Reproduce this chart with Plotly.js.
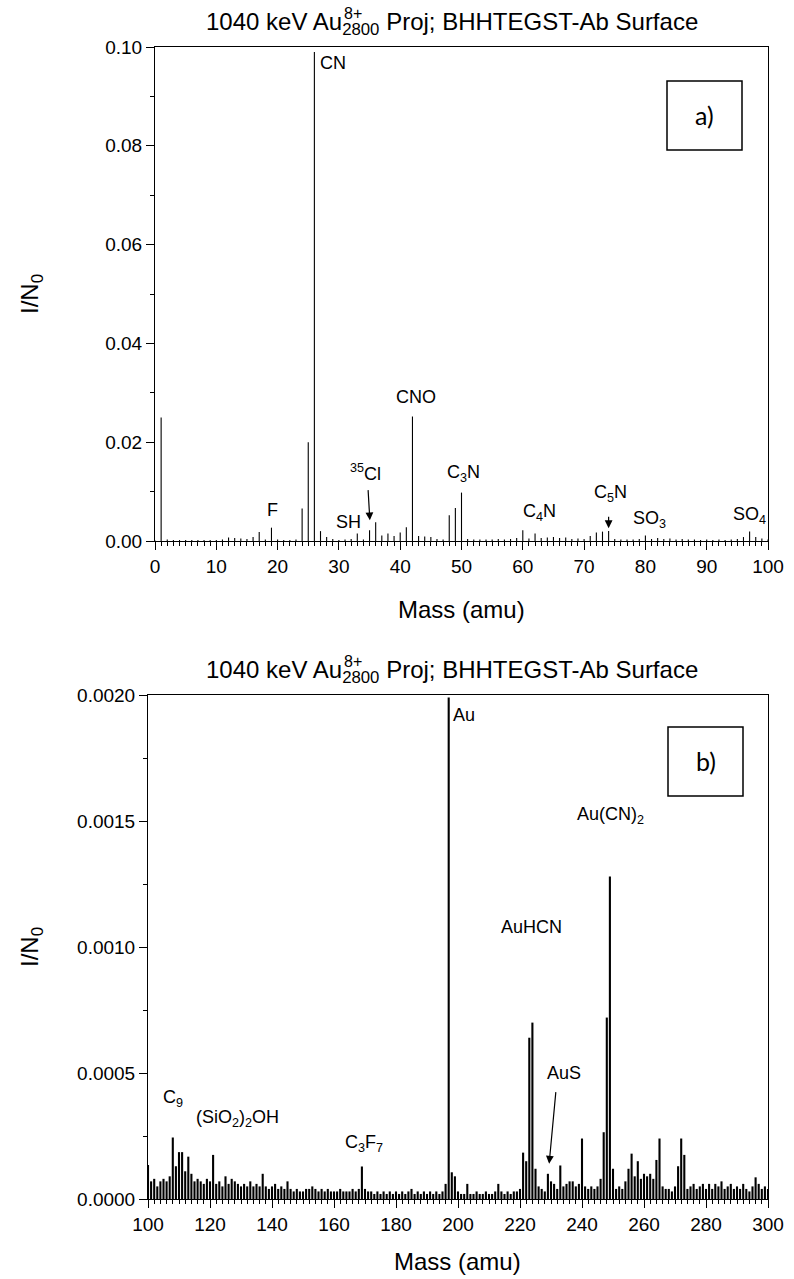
<!DOCTYPE html>
<html><head><meta charset="utf-8">
<script src="https://cdn.plot.ly/plotly-3.0.1.min.js"></script>
<style>html,body{margin:0;padding:0;background:#fff}#chart{width:794px;height:1279px}</style>
</head><body><div id="chart"></div>
<script>
// ---------- data ----------
const panelTitleMain = "1040 keV Au<sub>2800</sub> Proj; BHHTEGST-Ab Surface";
const panelTitleCharge = "8+";
const xAxisTitle = "Mass (amu)";
const yAxisTitle = "I/N<sub>0</sub>";

// panel a) : integer masses 0..100
const topStartMass = 0;
const topIntensity = [
  0.0001, 0.0250, 0.0003, 0.0002, 0.0002, 0.0002, 0.0002, 0.0002, 0.0002, 0.0002,
  0.0002, 0.0003, 0.0007, 0.0006, 0.0005, 0.0004, 0.0008, 0.0018, 0.0003, 0.0027,
  0.0003, 0.0002, 0.0002, 0.0003, 0.0066, 0.0200, 0.0990, 0.0020, 0.0008, 0.0004,
  0.0002, 0.0003, 0.0004, 0.0015, 0.0003, 0.0022, 0.0038, 0.0011, 0.0015, 0.0010,
  0.0017, 0.0028, 0.0252, 0.0010, 0.0009, 0.0008, 0.0004, 0.0003, 0.0052, 0.0067,
  0.0098, 0.0004, 0.0003, 0.0003, 0.0003, 0.0003, 0.0004, 0.0003, 0.0004, 0.0006,
  0.0022, 0.0005, 0.0015, 0.0006, 0.0007, 0.0008, 0.0006, 0.0007, 0.0004, 0.0005,
  0.0004, 0.0010, 0.0017, 0.0019, 0.0020, 0.0004, 0.0003, 0.0003, 0.0003, 0.0004,
  0.0011, 0.0004, 0.0006, 0.0004, 0.0005, 0.0003, 0.0004, 0.0003, 0.0003, 0.0002,
  0.0003, 0.0002, 0.0003, 0.0002, 0.0003, 0.0004, 0.0008, 0.0019, 0.0008, 0.0005,
  0.0003
];

// panel b) : integer masses 100..300
const bottomStartMass = 100;
const bottomIntensity = [
  0.000135, 0.00007, 0.00008, 0.00005, 0.00007, 0.00008, 0.00007, 0.00009, 0.000244, 0.00013,
  0.000186, 0.000186, 0.00011, 0.000168, 0.0001, 0.00007, 0.00008, 0.00007, 0.00006, 0.00008,
  0.00007, 0.000175, 0.00006, 0.00007, 0.00005, 0.00009, 0.00006, 0.00008, 0.00007, 0.00006,
  0.00005, 0.00006, 0.00005, 0.00007, 0.00005, 0.00006, 0.00005, 0.0001, 0.00005, 0.00004,
  0.00005, 0.00006, 0.00004, 0.00005, 0.00004, 0.00007, 0.00004, 0.00003, 0.00004, 0.00003,
  0.00003, 0.00004, 0.00004, 0.00005, 0.00004, 0.00003, 0.00004, 0.00003, 0.00004, 0.00003,
  0.00003, 0.00003, 0.00004, 0.00003, 0.00003, 0.00003, 0.00004, 0.00003, 0.00004, 0.000129,
  0.00004, 0.00003, 0.00003, 0.00002, 0.00003, 0.00002, 0.00003, 0.00002, 0.00003, 0.00002,
  0.00003, 0.00002, 0.00003, 0.00002, 0.00003, 0.00004, 0.00002, 0.00003, 0.00002, 0.00003,
  0.00002, 0.00003, 0.00002, 0.00003, 0.00002, 0.00003, 0.00006, 0.00199, 0.000106, 0.00009,
  0.00003, 0.00002, 0.00002, 0.00006, 0.00002, 0.00002, 0.00003, 0.00002, 0.00002, 0.00003,
  0.00002, 0.00002, 0.00003, 0.00006, 0.00003, 0.00002, 0.00003, 0.00002, 0.00003, 0.00003,
  0.00004, 0.000184, 0.00015, 0.00064, 0.0007, 0.00012, 0.00005, 0.00004, 0.00003, 0.0001,
  0.00007, 0.00006, 0.00004, 0.000133, 0.00005, 0.00006, 0.00007, 0.00007, 0.00005, 0.00006,
  0.00024, 0.00005, 0.00004, 0.00005, 0.00004, 0.00005, 0.00008, 0.000265, 0.00072, 0.00128,
  0.00012, 0.00004, 0.00005, 0.00004, 0.00007, 0.00012, 0.00018, 0.00009, 0.00015, 0.00008,
  0.0001, 0.00009, 0.0001, 0.00008, 0.000155, 0.00024, 0.00005, 0.00004, 0.00004, 0.00003,
  0.00005, 0.00013, 0.00024, 0.000175, 0.00004, 0.00005, 0.00006, 0.00004, 0.00005, 0.00006,
  0.00004, 0.00006, 0.00004, 0.00006, 0.00005, 0.00007, 0.00004, 0.00005, 0.00006, 0.00004,
  0.00005, 0.00004, 0.00006, 0.00004, 0.00003, 0.00005, 0.000086, 0.00006, 0.00004, 0.00005,
  0.00004
];

// peak labels (text, mass, intensity position)
const topLabelText = ["CN", "F", "SH", "<sup>35</sup>Cl", "CNO", "C<sub>3</sub>N", "C<sub>4</sub>N", "C<sub>5</sub>N", "SO<sub>3</sub>", "SO<sub>4</sub>"];
const topLabelMass = [26.55, 19.1, 31.6, 34.3, 42.6, 50.4, 62.8, 74.3, 80.6, 96.9];
const topLabelY    = [0.0968, 0.0063, 0.0039, 0.0139, 0.0292, 0.0137, 0.0058, 0.0097, 0.0044, 0.0052];
const topLabelAnchor = ["left", "center", "center", "center", "center", "center", "center", "center", "center", "center"];
// arrows: [tipMass, tipY, tailMass, tailY]
const topArrows = [[35.05, 0.0042, 34.75, 0.0106], [74.0, 0.0026, 74.0, 0.0052]];

const bottomLabelText = ["Au", "Au(CN)<sub>2</sub>", "AuHCN", "AuS", "C<sub>9</sub>", "(SiO<sub>2</sub>)<sub>2</sub>OH", "C<sub>3</sub>F<sub>7</sub>"];
const bottomLabelMass = [197.6, 249.2, 223.6, 234.2, 108.1, 128.8, 169.6];
const bottomLabelY    = [0.00192, 0.00152, 0.00108, 0.00050, 0.00040, 0.00032, 0.00022];
const bottomLabelAnchor = ["left", "center", "center", "center", "center", "center", "center"];
const bottomArrows = [[229.4, 0.00014, 231.6, 0.00043]];

const panelTags = ["a)", "b)"];

// ---------- build ----------
function sticks(start, vals) {
  const x = [], y = [];
  vals.forEach((v, i) => { const m = start + i; x.push(m, m, null); y.push(0, v, null); });
  return {x, y};
}
const sTop = sticks(topStartMass, topIntensity);
const sBot = sticks(bottomStartMass, bottomIntensity);

const FONT = "Liberation Sans, Arial, sans-serif";
const data = [
  {type: "scatter", mode: "lines", x: sTop.x, y: sTop.y, xaxis: "x", yaxis: "y",
   line: {color: "#000", width: 1.1}, hoverinfo: "skip", showlegend: false},
  {type: "scatter", mode: "lines", x: sBot.x, y: sBot.y, xaxis: "x2", yaxis: "y2",
   line: {color: "#000", width: 2.1}, hoverinfo: "skip", showlegend: false}
];

const W = 794, H = 1279;
const px = v => v / W, py = v => 1 - v / H;

function axisBase() {
  return {showgrid: false, zeroline: false, showline: true, linecolor: "#000", linewidth: 1,
    mirror: true, ticks: "outside", ticklen: 8, tickwidth: 1, tickcolor: "#000",
    tickfont: {family: FONT, size: 19, color: "#000"}, fixedrange: true};
}
const layout = {
  width: W, height: H, margin: {l: 0, r: 0, t: 0, b: 0},
  paper_bgcolor: "#fff", plot_bgcolor: "#fff", showlegend: false,
  xaxis: Object.assign(axisBase(), {domain: [px(155), px(768)], range: [0, 100], anchor: "y",
    tick0: 0, dtick: 10, minor: {dtick: 1, ticklen: 4, tickwidth: 1, ticks: "outside", tickcolor: "#000"}}),
  yaxis: Object.assign(axisBase(), {domain: [py(541), py(47)], range: [0, 0.1], anchor: "x",
    tick0: 0, dtick: 0.02, tickformat: ".2f", minor: {dtick: 0.01, ticklen: 4, tickwidth: 1, ticks: "outside", tickcolor: "#000"}}),
  xaxis2: Object.assign(axisBase(), {domain: [px(148), px(768)], range: [100, 300], anchor: "y2",
    tick0: 100, dtick: 20, minor: {dtick: 2, ticklen: 4, tickwidth: 1, ticks: "outside", tickcolor: "#000"}}),
  yaxis2: Object.assign(axisBase(), {domain: [py(1199), py(695)], range: [0, 0.002], anchor: "x2",
    tick0: 0, dtick: 0.0005, tickformat: ".4f", minor: {dtick: 0.00025, ticklen: 4, tickwidth: 1, ticks: "outside", tickcolor: "#000"}}),
  shapes: [
    {type: "rect", xref: "paper", yref: "paper", x0: px(667), x1: px(742), y0: py(150), y1: py(81), line: {color: "#000", width: 1.5}},
    {type: "rect", xref: "paper", yref: "paper", x0: px(668), x1: px(743), y0: py(796), y1: py(727), line: {color: "#000", width: 1.5}}
  ],
  annotations: []
};

const ann = layout.annotations;
function txt(o) { ann.push(Object.assign({showarrow: false, font: {family: FONT, size: 18, color: "#000"}}, o)); }

// titles
txt({text: panelTitleMain, xref: "paper", yref: "paper", x: px(452), y: py(24), xanchor: "center", yanchor: "middle", font: {family: FONT, size: 24, color: "#000"}});
txt({text: panelTitleMain, xref: "paper", yref: "paper", x: px(452), y: py(671), xanchor: "center", yanchor: "middle", font: {family: FONT, size: 24, color: "#000"}});
// axis titles
txt({text: xAxisTitle, xref: "paper", yref: "paper", x: px(461), y: py(609), xanchor: "center", yanchor: "middle", font: {family: FONT, size: 24, color: "#000"}});
txt({text: xAxisTitle, xref: "paper", yref: "paper", x: px(458), y: py(1261), xanchor: "center", yanchor: "middle", font: {family: FONT, size: 24, color: "#000"}});
txt({text: yAxisTitle, xref: "paper", yref: "paper", x: px(31), y: py(294), textangle: -90, xanchor: "center", yanchor: "middle", font: {family: FONT, size: 24, color: "#000"}});
txt({text: yAxisTitle, xref: "paper", yref: "paper", x: px(31), y: py(947), textangle: -90, xanchor: "center", yanchor: "middle", font: {family: FONT, size: 24, color: "#000"}});
// panel tags
txt({text: panelTags[0], xref: "paper", yref: "paper", x: px(704.5), y: py(115.5), xanchor: "center", yanchor: "middle", font: {family: "Lato, Open Sans, sans-serif", size: 25, color: "#000"}});
txt({text: panelTags[1], xref: "paper", yref: "paper", x: px(705.5), y: py(761.5), xanchor: "center", yanchor: "middle", font: {family: "Lato, Open Sans, sans-serif", size: 25, color: "#000"}});

// peak labels
topLabelText.forEach((t, i) => txt({text: t, xref: "x", yref: "y", x: topLabelMass[i], y: topLabelY[i], xanchor: topLabelAnchor[i], yanchor: "middle"}));
bottomLabelText.forEach((t, i) => txt({text: t, xref: "x2", yref: "y2", x: bottomLabelMass[i], y: bottomLabelY[i], xanchor: bottomLabelAnchor[i], yanchor: "middle", font: {family: FONT, size: 18, color: "#000"}}));

function arrow(a, xr, yr) {
  ann.push({text: "", xref: xr, yref: yr, axref: xr, ayref: yr, x: a[0], y: a[1], ax: a[2], ay: a[3],
    showarrow: true, arrowhead: 2, arrowsize: 1.3, arrowwidth: 1.2, arrowcolor: "#000"});
}
topArrows.forEach(a => arrow(a, "x", "y"));
bottomArrows.forEach(a => arrow(a, "x2", "y2"));

Plotly.newPlot("chart", data, layout, {staticPlot: true, displayModeBar: false}).then(gd => {
  const gb = gd.getBoundingClientRect();
  const extra = [];
  gd.querySelectorAll(".annotation-text tspan").forEach(t => {
    if (t.textContent === "2800") {
      const r = t.getBoundingClientRect();
      extra.push({text: panelTitleCharge, xref: "paper", yref: "paper", showarrow: false,
        x: (r.left - gb.left + 1) / W, y: 1 - (r.top - gb.top + 3) / H, xanchor: "left", yanchor: "bottom",
        font: {family: FONT, size: 16, color: "#000"}, borderpad: 0});
    }
  });
  Plotly.relayout(gd, {annotations: layout.annotations.concat(extra)});
});
</script></body></html>
